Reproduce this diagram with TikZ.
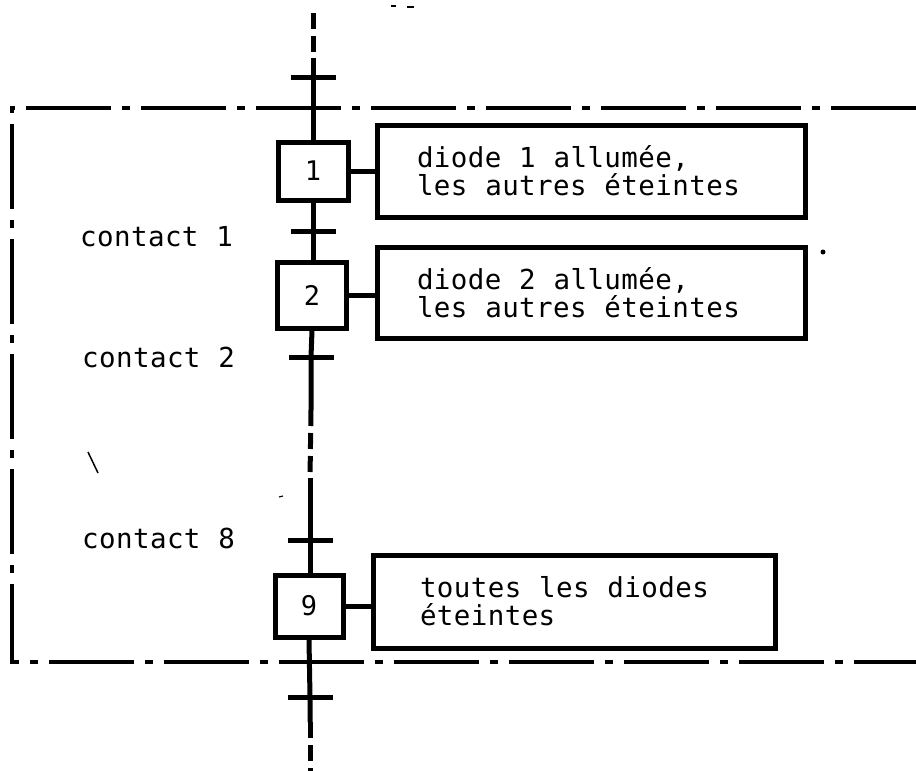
\documentclass[tikz,border=0pt]{standalone}
\usepackage{fontspec}
\newfontfamily\tw[LetterSpace=1.5,WordSpace=1.05]{DejaVu Sans Mono}
\begin{document}
\begin{tikzpicture}[x=1pt,y=-1pt,
  main/.style={line width=5pt},
  vdash/.style={line width=5pt,dash pattern=on 16pt off 7pt},
  frame/.style={line width=3.5pt,dash pattern=on 85pt off 11pt on 8pt off 11pt},
  stepbox/.style={draw,line width=5pt,inner sep=0pt,font=\tw\fontsize{27}{28}\selectfont},
  actbox/.style={draw,line width=5pt,align=left,inner ysep=0pt,font=\tw\fontsize{27.5}{28}\selectfont},
  lbl/.style={anchor=base west,inner sep=0pt,font=\tw\fontsize{27.5}{28}\selectfont}]
\useasboundingbox[fill=white] (0,0) rectangle (916,771);
% frame
\draw[frame] (916,108) -- (12,108) -- (12,662) -- (916,662);
% steps
\node[stepbox,minimum width=70pt,minimum height=58pt] (s1) at (313,171) {1};
\node[stepbox,minimum width=69pt,minimum height=66pt] (s2) at (312,295) {2};
\node[stepbox,minimum width=68pt,minimum height=62pt] (s9) at (309,606) {9};
% actions
\node[actbox,inner xsep=40pt,text width=348pt,minimum height=92pt] (a1) at (591,171) {\spaceskip=0pt\relax diode 1 allumée,\\les autres éteintes};
\node[actbox,inner xsep=40pt,text width=348pt,minimum height=91pt] (a2) at (591,292.5) {\spaceskip=0pt\relax diode 2 allumée,\\les autres éteintes};
\node[actbox,inner xsep=47pt,text width=308pt,minimum height=93pt] (a9) at (574,601.5) {\spaceskip=0pt\relax toutes les diodes\\éteintes};
\draw[main] (s1.east) -- (s1.east -| a1.west);
\draw[main] (s2.east) -- (s2.east -| a2.west);
\draw[main] (s9.east) -- (s9.east -| a9.west);
% transitions
\coordinate (t0) at (313,77);
\coordinate (t1) at (313,231);
\coordinate (t2) at (311,357);
\coordinate (t8) at (310,540);
\coordinate (t9) at (310,697);
\foreach \t in {t0,t1,t2,t8,t9}
  \draw[main] (\t) +(-22,0) -- +(23,0);
% vertical line
\coordinate (top) at (313,13);
\coordinate (top2) at (313,58);
\coordinate (m1) at (311,410);
\coordinate (m2) at (310,478);
\coordinate (b1) at (310,722);
\coordinate (bot) at (310,771);
\draw[vdash] (top) -- (top2);
\draw[main] (top2) -- (t0) -- (s1.north);
\draw[main] (s1.south) -- (t1) -- (t1 |- s2.north);
\draw[main] (s2.south) -- (t2) -- (m1);
\draw[vdash] (m1) -- (m2);
\draw[main] (m2) -- (t8) -- (t8 |- s9.north);
\draw[main] (s9.south) -- (t9) -- (b1);
\draw[vdash] (b1) -- (bot);
% labels
\node[lbl] (c1) at (80,246) {contact 1};
\node[lbl] (c2) at (82,367) {contact 2};
\node[lbl] (c8) at (82,548) {contact 8};
% scan marks
\draw[line width=1.5pt] (88,452) -- (98,473);
\fill (823,252) circle (2.5pt);
\draw[line width=2pt] (391,6) -- (396,6) (407,7) -- (414,7);
\draw[line width=1.2pt] (279,497) -- (283,496);
\end{tikzpicture}
\end{document}
